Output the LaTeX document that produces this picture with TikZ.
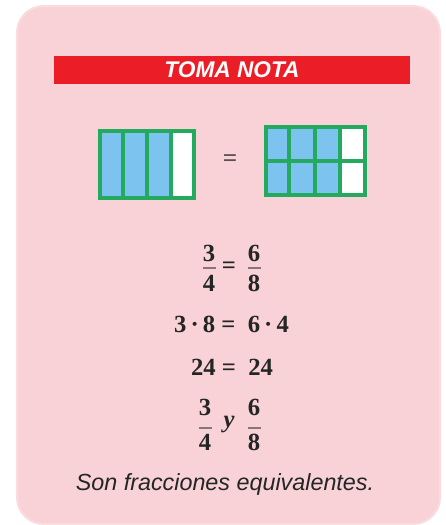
\documentclass[tikz,border=0pt]{standalone}
\usepackage{fontspec}
\setmainfont{Liberation Serif}
\newfontfamily\arialfont{Liberation Sans}
\definecolor{panelpink}{RGB}{248,210,214}
\definecolor{paneledge}{RGB}{250,220,223}
\definecolor{barred}{RGB}{235,30,40}
\definecolor{gridgreen}{RGB}{35,170,95}
\definecolor{cellblue}{RGB}{125,195,240}
\definecolor{inkdark}{RGB}{35,38,36}
\definecolor{eqgray}{RGB}{90,80,80}
\begin{document}
\begin{tikzpicture}[x=0.75pt,y=-0.75pt,
  num/.style={font=\fontsize{18.5pt}{20pt}\selectfont\bfseries, text=inkdark, inner sep=0pt, anchor=base},
  fracbar/.style={draw=eqgray!70!panelpink, line width=1.6pt},
  gridline/.style={draw=gridgreen, line width=3pt},
  note/.style={font=\arialfont\fontsize{17.5pt}{19pt}\selectfont\itshape, text=inkdark, inner sep=0pt, anchor=base}]
\useasboundingbox (0,0) rectangle (446,525);
\fill[white] (0,0) rectangle (446,525);
% panel
\fill[panelpink, draw=paneledge, line width=1.5pt, rounded corners=20] (17,6) rectangle (440,524);
% title bar
\fill[barred] (54,56) rectangle (410,84);
\node[font=\arialfont\fontsize{17pt}{19pt}\selectfont\bfseries\itshape, text=white, inner sep=0pt, anchor=base] (title) at (232,77.5) {TOMA NOTA};
% left grid (3/4)
\fill[cellblue] (100,131) rectangle (171,198);
\fill[white] (171,131) rectangle (194,198);
\draw[gridline] (100,131) rectangle (194,198);
\draw[gridline] (123,131) -- (123,198);
\draw[gridline] (147,131) -- (147,198);
\draw[gridline] (171,131) -- (171,198);
% equals between grids
\node[font=\fontsize{19pt}{20pt}\selectfont\bfseries, text=eqgray, inner sep=0pt] (gridEq) at (230,161) {=};
% right grid (6/8)
\fill[cellblue] (266,127) rectangle (340,195);
\fill[white] (340,127) rectangle (365,195);
\draw[gridline] (266,127) rectangle (365,195);
\draw[gridline] (266,161) -- (365,161);
\draw[gridline] (289,127) -- (289,195);
\draw[gridline] (315,127) -- (315,195);
\draw[gridline] (340,127) -- (340,195);
% 3/4 = 6/8
\node[num] (n1) at (209,261) {3};
\draw[fracbar] (203,268) -- (216,268);
\node[num] (d1) at (209,291) {4};
\node[num] (e1) at (229,273) {=};
\node[num] (n2) at (254,261) {6};
\draw[fracbar] (248,268) -- (261,268);
\node[num] (d2) at (254,291) {8};
% 3.8 = 6.4
\node[num] (l2) at (231.5,332) {3\,·\,8 =\ \ 6\,·\,4};
% 24 = 24
\node[num] (l3) at (232,375) {24 =\ \ 24};
% 3/4 y 6/8
\node[num] (n3) at (205,415) {3};
\draw[fracbar] (199,428) -- (212,428);
\node[num] (d3) at (205,450) {4};
\node[num, font=\fontsize{18.5pt}{20pt}\selectfont\bfseries\itshape] (yy) at (229,427) {y};
\node[num] (n4) at (254,415) {6};
\draw[fracbar] (248,428) -- (261,428);
\node[num] (d4) at (254,450) {8};
% note
\node[note] (note) at (225,490) {Son fracciones equivalentes.};
\end{tikzpicture}
\end{document}
